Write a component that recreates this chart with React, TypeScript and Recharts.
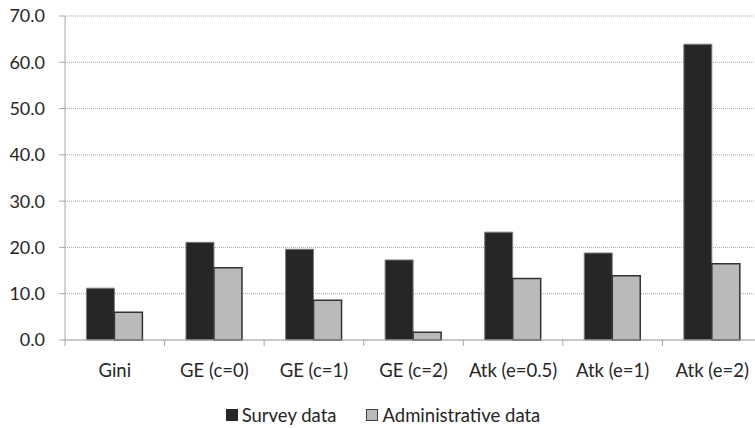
import React from 'react';
import { BarChart, Bar, XAxis, YAxis, CartesianGrid, Legend } from 'recharts';

const categories = ['Gini', 'GE (c=0)', 'GE (c=1)', 'GE (c=2)', 'Atk (e=0.5)', 'Atk (e=1)', 'Atk (e=2)'];
const surveyValues = [11.2, 21.1, 19.6, 17.3, 23.3, 18.8, 63.9];
const adminValues = [6.0, 15.6, 8.6, 1.7, 13.3, 13.9, 16.5];
const yTicks = [0, 10, 20, 30, 40, 50, 60, 70];
const seriesOrder = ['survey', 'admin'];
const seriesNames = { survey: 'Survey data', admin: 'Administrative data' };

const data = categories.map((c, i) => ({ category: c, survey: surveyValues[i], admin: adminValues[i] }));

const FONT = 'Lato, "Open Sans", sans-serif';
const AXIS = '#a6a6a6';
const TEXT = '#262626';
const X_TICK_SIZE = 6;
const X_TICK_MARGIN = 18;

const CategoryTick = (props: any) => {
  const { x, y, payload, index, visibleTicksCount } = props;
  const half = payload?.offset ?? 0;
  const axisY = y - X_TICK_SIZE - X_TICK_MARGIN;
  const isLast = index === (visibleTicksCount ?? categories.length) - 1;
  return (
    <g>
      <line x1={x - half} x2={x - half} y1={axisY} y2={axisY + X_TICK_SIZE} stroke={AXIS} />
      {isLast && <line x1={x + half} x2={x + half} y1={axisY} y2={axisY + X_TICK_SIZE} stroke={AXIS} />}
      <text x={x} y={y} dy="0.71em" textAnchor="middle" fill={TEXT} fontSize={18.5} fontFamily={FONT}>
        {payload.value}
      </text>
    </g>
  );
};

const renderLegend = (props: any) => {
  const payload = [...(props.payload || [])].sort(
    (a: any, b: any) => seriesOrder.indexOf(a.dataKey) - seriesOrder.indexOf(b.dataKey)
  );
  return (
    <div style={{ display: 'flex', justifyContent: 'center', alignItems: 'center', fontFamily: FONT, fontSize: 18.5, color: TEXT }}>
      {payload.map((p: any, i: number) => (
        <div key={i} style={{ display: 'flex', alignItems: 'center', marginRight: i === 0 ? 30 : 0 }}>
          <span
            style={{
              display: 'inline-block',
              width: 12,
              height: 12,
              background: p.payload?.fill ?? p.color,
              border: p.dataKey === 'survey' ? '1px solid #262626' : '1.5px solid #404040',
              boxSizing: 'border-box',
              marginRight: 4,
            }}
          />
          <span>{p.value}</span>
        </div>
      ))}
    </div>
  );
};

export default function App() {
  return (
    <div style={{ position: 'absolute', left: 0, top: 0, width: 755, height: 428, overflow: 'hidden', background: '#fff' }}>
      <BarChart
        width={770}
        height={428}
        data={data}
        margin={{ top: 16, right: 8, left: 8, bottom: 58 }}
        barCategoryGap="21.5%"
        barGap={0}
        style={{ fontFamily: FONT }}
      >
        <CartesianGrid vertical={false} stroke="#a6a6a6" strokeDasharray="1 1" />
        <XAxis
          dataKey="category"
          height={30}
          tickLine={false}
          axisLine={{ stroke: AXIS }}
          tickSize={X_TICK_SIZE}
          tickMargin={X_TICK_MARGIN}
          interval={0}
          tick={<CategoryTick />}
        />
        <YAxis
          domain={[0, 70]}
          ticks={yTicks}
          width={57}
          tickFormatter={(v: number) => v.toFixed(1)}
          axisLine={{ stroke: AXIS }}
          tickLine={{ stroke: AXIS }}
          tickSize={6}
          tickMargin={14}
          tick={{ fill: TEXT, fontSize: 18, fontFamily: FONT }}
        />
        <Legend
          verticalAlign="middle"
          align="center"
          layout="horizontal"
          content={renderLegend}
          wrapperStyle={{ top: 404, left: 0, width: 766 }}
        />
        <Bar dataKey="survey" name={seriesNames.survey} fill="#262626" stroke="#7f7f7f" strokeWidth={1} isAnimationActive={false} />
        <Bar dataKey="admin" name={seriesNames.admin} fill="#bababa" stroke="#333333" strokeWidth={1.5} isAnimationActive={false} />
      </BarChart>
    </div>
  );
}
